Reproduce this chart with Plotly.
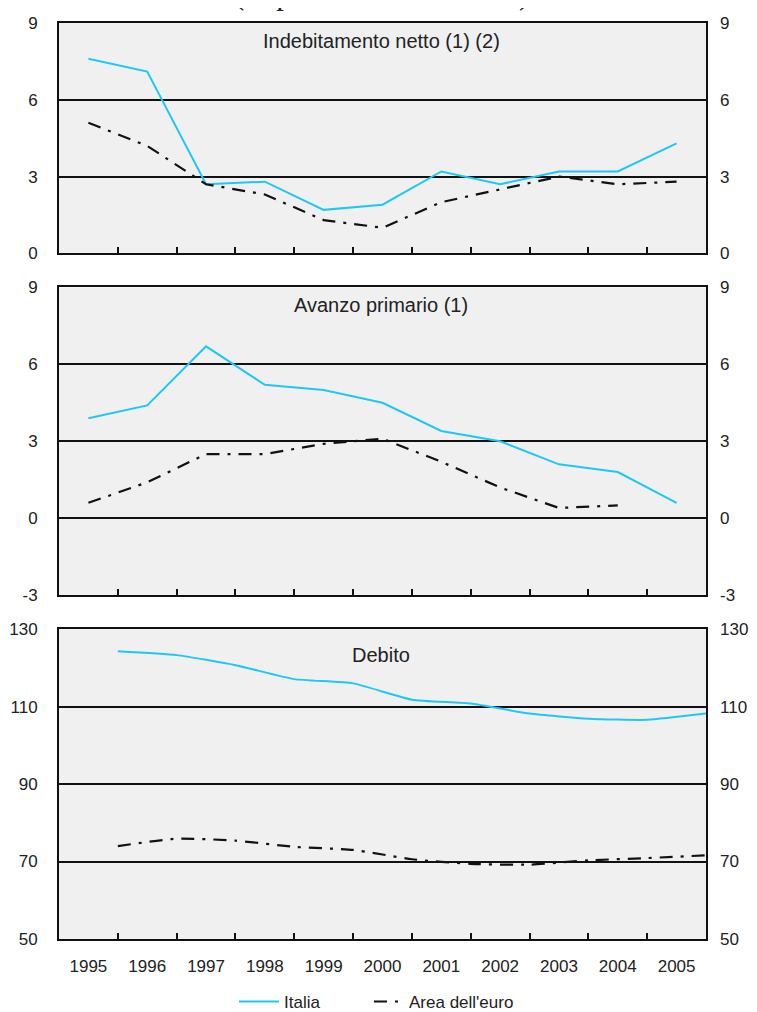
import plotly.graph_objects as go

# ---------------- data ----------------
years = [1995, 1996, 1997, 1998, 1999, 2000, 2001, 2002, 2003, 2004, 2005]
year_labels = [str(y) for y in years]

indeb_italia = [7.6, 7.1, 2.7, 2.8, 1.7, 1.9, 3.2, 2.7, 3.2, 3.2, 4.3]
indeb_euro = [5.1, 4.2, 2.7, 2.3, 1.3, 1.0, 2.0, 2.5, 3.0, 2.7, 2.8]

avanzo_italia = [3.9, 4.4, 6.7, 5.2, 5.0, 4.5, 3.4, 3.0, 2.1, 1.8, 0.6]
avanzo_euro = [0.6, 1.4, 2.5, 2.5, 2.9, 3.1, 2.2, 1.2, 0.4, 0.5, None]

# debt: end-of-year stocks
debito_italia = [124.3, 123.3, 120.7, 117.1, 116.0, 111.8, 110.8, 108.2, 106.9, 106.6, 108.2]
debito_euro = [74.0, 75.9, 75.4, 73.8, 73.0, 70.6, 69.4, 69.2, 70.3, 70.9, 71.6]

y_ticks_1 = [0, 3, 6, 9]
y_ticks_2 = [-3, 0, 3, 6, 9]
y_ticks_3 = [50, 70, 90, 110, 130]

panel_titles = ["Indebitamento netto (1) (2)", "Avanzo primario (1)", "Debito"]
series_names = ["Italia", "Area dell'euro"]
top_text = "(in percentuale del PIL)"

# ---------------- layout geometry ----------------
# the page body has an 8px margin: figure coordinates = page coordinates - 8
OFF = 8
W, H = 757 - OFF, 1012 - OFF
L, R, T, B = 59 - OFF, 706 - OFF, 22.5 - OFF, 939 - OFF
PH = B - T


def py(p):
    """page pixel (from top) -> paper fraction"""
    return (B - (p - OFF)) / PH


def px(p):
    """page pixel (from left) -> paper fraction"""
    return ((p - OFF) - L) / (R - L)


panel_px = [(22.5, 253), (287, 595), (629, 939)]
domains = [[max(0, py(b)), min(1, py(t))] for t, b in panel_px]
yticks = [y_ticks_1, y_ticks_2, y_ticks_3]

ITALIA = "#1ec8f6"
EURO = "#111111"
FONT = "Liberation Sans"
EURO_DASH = "13px,8px,3px,8px"

fig = go.Figure()

end_of_year = [y + 0.5 for y in years]
panels = [
    (years, indeb_italia, indeb_euro, "linear"),
    (years, avanzo_italia, avanzo_euro, "linear"),
    (end_of_year, debito_italia, debito_euro, "spline"),
]

for i, (xs, it, eu, shape) in enumerate(panels):
    xa = "x" if i == 0 else f"x{i+1}"
    yl = "y" if i == 0 else f"y{2*i+1}"
    yr = f"y{2*i+2}"
    fig.add_trace(go.Scatter(
        x=xs, y=it, mode="lines", name=series_names[0],
        line=dict(color=ITALIA, width=2, shape=shape, smoothing=0.5),
        xaxis=xa, yaxis=yl, showlegend=(i == 0), legend="legend",
        connectgaps=False, hoverinfo="skip"))
    fig.add_trace(go.Scatter(
        x=xs, y=eu, mode="lines", name=series_names[1],
        line=dict(color=EURO, width=2.2, dash=EURO_DASH, shape=shape, smoothing=0.5),
        xaxis=xa, yaxis=yl, showlegend=(i == 0), legend="legend2",
        connectgaps=False, hoverinfo="skip"))
    # carrier for the right-hand axis
    fig.add_trace(go.Scatter(x=[None], y=[None], mode="lines", xaxis=xa, yaxis=yr,
                             showlegend=False, hoverinfo="skip"))

boundaries = [y + 0.5 for y in years[:-1]]
tickfont = dict(family=FONT, size=17, color="#222")

layout = dict(
    width=W, height=H,
    margin=dict(l=L, r=W - R, t=T, b=H - B, pad=0, autoexpand=False),
    paper_bgcolor="white",
    plot_bgcolor="#f0f0f0",
    font=dict(family=FONT, size=17, color="#222"),
    showlegend=True,
)

for i in range(3):
    xkey = "xaxis" if i == 0 else f"xaxis{i+1}"
    ylkey = "yaxis" if i == 0 else f"yaxis{2*i+1}"
    yrkey = f"yaxis{2*i+2}"
    ylname = "y" if i == 0 else f"y{2*i+1}"
    xname = "x" if i == 0 else f"x{i+1}"
    tv = yticks[i]
    rng = [tv[0], tv[-1]]
    layout[xkey] = dict(
        domain=[0, 1], anchor=ylname, range=[1994.5, 2005.5],
        tickmode="array", tickvals=years, ticktext=year_labels,
        showticklabels=(i == 2), ticks="", tickfont=tickfont,
        ticklabelstandoff=11, automargin=False,
        showgrid=False, zeroline=False,
        showline=True, linecolor="#111", linewidth=2, mirror=True,
        minor=dict(tickmode="array", tickvals=boundaries, ticks="inside",
                   ticklen=6, tickwidth=1.5, tickcolor="#111", showgrid=False),
    )
    layout[ylkey] = dict(
        domain=domains[i], anchor=xname, range=rng,
        tickmode="array", tickvals=tv, ticktext=[str(v) for v in tv], ticks="",
        tickfont=tickfont, ticklabelstandoff=16, automargin=False,
        showgrid=True, gridcolor="#111", gridwidth=1.5, zeroline=False,
        showline=True, linecolor="#111", linewidth=2, mirror=True,
    )
    layout[yrkey] = dict(
        overlaying=ylname, side="right", anchor=xname, range=rng,
        tickmode="array", tickvals=tv, ticktext=[str(v) for v in tv], ticks="",
        tickfont=tickfont, ticklabelstandoff=13, automargin=False,
        showgrid=False, zeroline=False, showline=False,
    )

fig.update_layout(**layout)

title_y = [41, 305, 655]
ann = []
for i in range(3):
    ann.append(dict(text=panel_titles[i], xref="paper", yref="paper",
                    x=px(381), y=py(title_y[i]), xanchor="center", yanchor="middle",
                    showarrow=False, font=dict(family=FONT, size=20, color="#222")))
ann.append(dict(text=top_text, xref="paper", yref="paper", x=px(381), y=py(12),
                xanchor="center", yanchor="bottom", showarrow=False,
                font=dict(family="Liberation Serif", size=31, color="#222")))
fig.update_layout(annotations=ann)

fig.update_layout(
    legend=dict(orientation="h", x=px(234), y=py(1002), xanchor="left", yanchor="middle",
                itemwidth=40,
                font=dict(family=FONT, size=17, color="#222"), bgcolor="rgba(0,0,0,0)"),
    legend2=dict(orientation="h", x=px(369), y=py(1002), xanchor="left", yanchor="middle",
                 font=dict(family=FONT, size=17, color="#222"), bgcolor="rgba(0,0,0,0)"),
)

fig.write_html("out.html")
